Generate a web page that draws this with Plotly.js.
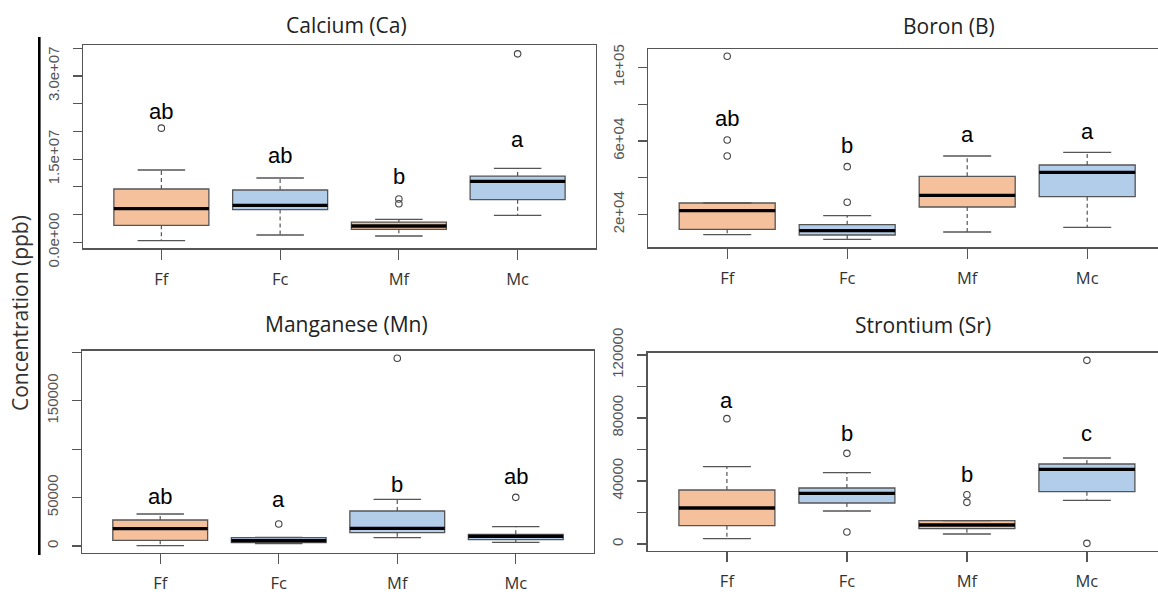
<!DOCTYPE html>
<html>
<head>
<meta charset="utf-8">
<script src="https://cdn.plot.ly/plotly-3.0.1.min.js"></script>
<style>html,body{margin:0;padding:0;background:#fff}#chart{width:1158px;height:595px}</style>
</head>
<body>
<div id="chart"></div>
<script>
// ---------- DATA ----------
const categories = ['Ff', 'Fc', 'Mf', 'Mc'];

// Calcium (Ca)
const caLower  = [0.29e6, 1.32e6, 1.14e6, 4.87e6];
const caQ1     = [3.06e6, 5.9e6, 2.34e6, 7.69e6];
const caMedian = [6.07e6, 6.67e6, 2.94e6, 11.0e6];
const caQ3     = [9.62e6, 9.44e6, 3.66e6, 11.96e6];
const caUpper  = [13.05e6, 11.6e6, 4.15e6, 13.35e6];
const caOutCat = ['Ff', 'Mf', 'Mf', 'Mc'];
const caOutVal = [20.6e6, 7.81e6, 6.97e6, 34.0e6];
const caLetters = ['ab', 'ab', 'b', 'a'];
const caLetterY = [23.56e6, 15.75e6, 11.96e6, 18.46e6];
const caTickVals = [0, 5e6, 1e7, 1.5e7, 2e7, 2.5e7, 3e7, 3.5e7];
const caTickText = ['0.0e+00', '', '', '1.5e+07', '', '', '3.0e+07', ''];

// Boron (B)
const bLower  = [9010, 6500, 10480, 13030];
const bQ1     = [11940, 8840, 24080, 29690];
const bMedian = [22070, 11190, 30430, 42970];
const bQ3     = [26260, 14450, 40790, 46940];
const bUpper  = [26260, 19350, 51840, 53850];
const bOutCat = ['Ff', 'Ff', 'Ff', 'Fc', 'Fc'];
const bOutVal = [106100, 60540, 51840, 26640, 46030];
const bLetters = ['ab', 'b', 'a', 'a'];
const bLetterY = [72350, 57820, 63270, 65060];
const bTickVals = [20000, 40000, 60000, 80000, 100000];
const bTickText = ['2e+04', '', '6e+04', '', '1e+05'];

// Manganese (Mn)
const mnLower  = [340, 2410, 8610, 3790];
const mnQ1     = [5850, 3440, 13770, 6540];
const mnMedian = [17900, 5510, 18240, 9980];
const mnQ3     = [26850, 8610, 36140, 12050];
const mnUpper  = [33040, 8950, 48200, 19960];
const mnOutCat = ['Fc', 'Mf', 'Mc'];
const mnOutVal = [22720, 193800, 50250];
const mnLetters = ['ab', 'a', 'b', 'ab'];
const mnLetterY = [50940, 47500, 63680, 71590];
const mnTickVals = [0, 50000, 100000, 150000, 200000];
const mnTickText = ['0', '50000', '', '150000', ''];

// Strontium (Sr)
const srLower  = [3390, 20950, 6350, 27720];
const srQ1     = [11640, 26030, 9740, 33230];
const srMedian = [22860, 32170, 12060, 47410];
const srQ3     = [34290, 35560, 14810, 50790];
const srUpper  = [49100, 45290, 14810, 54600];
const srOutCat = ['Ff', 'Fc', 'Fc', 'Mf', 'Mf', 'Mc', 'Mc'];
const srOutVal = [79580, 57570, 7620, 31320, 26460, 116610, 420];
const srLetters = ['a', 'b', 'b', 'c'];
const srLetterY = [91430, 70260, 44440, 70260];
const srTickVals = [0, 20000, 40000, 60000, 80000, 100000, 120000];
const srTickText = ['0', '', '40000', '', '80000', '', '120000'];

// ---------- STYLE / LAYOUT ----------
const ORANGE = '#F5C09C';
const BLUE = '#B1CDEA';
const EDGE = '#555555';
const W = 1158, H = 595;

const panels = [
  {title: 'Calcium (Ca)', lo: caLower, q1: caQ1, md: caMedian, q3: caQ3, hi: caUpper,
   oc: caOutCat, ov: caOutVal, let: caLetters, ly: caLetterY, tv: caTickVals, tt: caTickText,
   fills: [ORANGE, BLUE, ORANGE, BLUE], rightEdge: true,
   px: [83, 596], py: [45, 248.3], xr: [0.34, 4.66], yr: [-1.08e6, 35.6e6], tx: 346, ty: 25},
  {title: 'Boron (B)', lo: bLower, q1: bQ1, md: bMedian, q3: bQ3, hi: bUpper,
   oc: bOutCat, ov: bOutVal, let: bLetters, ly: bLetterY, tv: bTickVals, tt: bTickText,
   fills: [ORANGE, BLUE, ORANGE, BLUE], rightEdge: false,
   px: [648, 1158], py: [49, 247.3], xr: [0.34, 0.34 + 510 / 120], yr: [2150, 110070], tx: 949, ty: 26},
  {title: 'Manganese (Mn)', lo: mnLower, q1: mnQ1, md: mnMedian, q3: mnQ3, hi: mnUpper,
   oc: mnOutCat, ov: mnOutVal, let: mnLetters, ly: mnLetterY, tv: mnTickVals, tt: mnTickText,
   fills: [ORANGE, BLUE, BLUE, BLUE], rightEdge: true,
   px: [82, 594], py: [350.7, 553], xr: [0.34, 4.66], yr: [-7230, 201650], tx: 346.5, ty: 324},
  {title: 'Strontium (Sr)', lo: srLower, q1: srQ1, md: srMedian, q3: srQ3, hi: srUpper,
   oc: srOutCat, ov: srOutVal, let: srLetters, ly: srLetterY, tv: srTickVals, tt: srTickText,
   fills: [ORANGE, BLUE, ORANGE, BLUE], rightEdge: false,
   px: [647.7, 1158], py: [352.7, 550.7], xr: [0.34, 0.34 + 510.3 / 120], yr: [-4250, 121460], tx: 923, ty: 325}
];

const traces = [];
const annotations = [];
const layout = {
  width: W, height: H,
  margin: {l: 0, r: 0, t: 0, b: 0},
  paper_bgcolor: '#fff', plot_bgcolor: '#fff',
  showlegend: false,
  boxmode: 'overlay',
  annotations: annotations,
  shapes: [{type: 'line', xref: 'paper', yref: 'paper',
            x0: 39.3 / W, x1: 39.3 / W, y0: 1 - 37 / H, y1: 1 - 555 / H,
            line: {color: '#000', width: 2.6}}]
};

panels.forEach((p, k) => {
  const n = k + 1;
  const xa = n === 1 ? 'x' : 'x' + n;
  const ya = n === 1 ? 'y' : 'y' + n;
  const pos = c => categories.indexOf(c) + 1;

  categories.forEach((c, i) => {
    const x = i + 1;
    traces.push({
      type: 'box', xaxis: xa, yaxis: ya, x: [x],
      q1: [p.q1[i]], median: [p.md[i]], q3: [p.q3[i]],
      lowerfence: [p.q1[i]], upperfence: [p.q3[i]],
      width: 0.8, whiskerwidth: 0, fillcolor: p.fills[i],
      line: {color: EDGE, width: 1.3}, hoverinfo: 'skip', boxpoints: false
    });
    // dashed whiskers
    traces.push({
      type: 'scatter', mode: 'lines', xaxis: xa, yaxis: ya,
      x: [x, x, null, x, x], y: [p.q3[i], p.hi[i], null, p.q1[i], p.lo[i]],
      line: {color: EDGE, width: 1.2, dash: '4px,3px'}, hoverinfo: 'skip'
    });
    // staples
    traces.push({
      type: 'scatter', mode: 'lines', xaxis: xa, yaxis: ya,
      x: [x - 0.2, x + 0.2, null, x - 0.2, x + 0.2], y: [p.hi[i], p.hi[i], null, p.lo[i], p.lo[i]],
      line: {color: EDGE, width: 1.3}, hoverinfo: 'skip'
    });
    // median
    traces.push({
      type: 'scatter', mode: 'lines', xaxis: xa, yaxis: ya,
      x: [x - 0.4, x + 0.4], y: [p.md[i], p.md[i]],
      line: {color: '#000', width: 3.3}, hoverinfo: 'skip'
    });
    // letters
    annotations.push({
      xref: xa, yref: ya, x: x, y: p.ly[i], text: p.let[i], showarrow: false,
      xanchor: 'center', yanchor: 'middle',
      font: {family: 'Liberation Sans, Arial, sans-serif', size: 22, color: '#000'}
    });
  });

  // outliers
  traces.push({
    type: 'scatter', mode: 'markers', xaxis: xa, yaxis: ya,
    x: p.oc.map(pos), y: p.ov,
    marker: {symbol: 'circle-open', size: 6.5, color: '#444', line: {width: 1.1, color: '#444'}},
    hoverinfo: 'skip'
  });

  // title
  annotations.push({
    xref: 'paper', yref: 'paper', x: p.tx / W, y: 1 - p.ty / H, text: p.title, showarrow: false,
    xanchor: 'center', yanchor: 'middle',
    font: {family: 'Open Sans, sans-serif', size: 21, color: '#222'}
  });

  layout['xaxis' + (n === 1 ? '' : n)] = {
    anchor: ya, domain: [p.px[0] / W, p.px[1] / W], range: p.xr,
    tickmode: 'array', tickvals: [1, 2, 3, 4], ticktext: categories,
    ticks: 'outside', ticklen: 10, tickwidth: 1.2, tickcolor: EDGE,
    showline: true, mirror: true, linecolor: EDGE, linewidth: 1.4,
    showgrid: false, zeroline: false, fixedrange: true,
    ticklabelstandoff: 5,
    tickfont: {family: 'Open Sans, sans-serif', size: 16.5, color: '#333'}
  };
  layout['yaxis' + (n === 1 ? '' : n)] = {
    anchor: xa, domain: [1 - p.py[1] / H, 1 - p.py[0] / H], range: p.yr,
    tickmode: 'array', tickvals: p.tv, ticktext: p.tt, tickangle: -90,
    ticks: 'outside', ticklen: 9, tickwidth: 1.2, tickcolor: EDGE,
    showline: true, mirror: p.rightEdge, linecolor: EDGE, linewidth: 1.4,
    showgrid: false, zeroline: false, fixedrange: true,
    ticklabelstandoff: 8,
    tickfont: {family: 'Liberation Sans, Arial, sans-serif', size: 15, color: '#555'}
  };
});

// overall y title
annotations.push({
  xref: 'paper', yref: 'paper', x: 20 / W, y: 1 - 313 / H, text: 'Concentration (ppb)',
  showarrow: false, textangle: -90, xanchor: 'center', yanchor: 'middle',
  font: {family: 'Open Sans, sans-serif', size: 21, color: '#333'}
});

Plotly.newPlot('chart', traces, layout, {staticPlot: true, displayModeBar: false});
</script>
</body>
</html>
